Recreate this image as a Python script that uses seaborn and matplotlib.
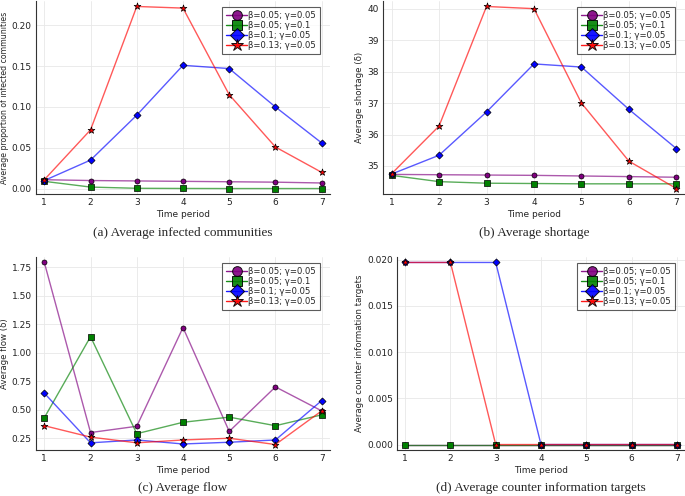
import matplotlib
matplotlib.use("Agg")
import matplotlib.pyplot as plt
from matplotlib.lines import Line2D
import seaborn as sns
import pandas as pd

periods = [1, 2, 3, 4, 5, 6, 7]
labels = ["β=0.05; γ=0.05", "β=0.05; γ=0.1", "β=0.1; γ=0.05", "β=0.13; γ=0.05"]
colors = ["#800080", "#008000", "#0000ff", "#ff0000"]
markers = ["o", "s", "D", "*"]

# (a) infected communities
infected_1 = [0.011, 0.010, 0.0095, 0.009, 0.0085, 0.008, 0.007]
infected_2 = [0.009, 0.002, 0.0005, 0.0003, 0.0002, 0.0002, 0.0002]
infected_3 = [0.010, 0.035, 0.090, 0.151, 0.147, 0.100, 0.056]
infected_4 = [0.011, 0.072, 0.223, 0.221, 0.115, 0.051, 0.020]

# (b) shortage
shortage_1 = [34.73, 34.72, 34.71, 34.70, 34.68, 34.66, 34.64]
shortage_2 = [34.70, 34.50, 34.45, 34.44, 34.43, 34.43, 34.43]
shortage_3 = [34.74, 35.34, 36.72, 38.25, 38.15, 36.80, 35.55]
shortage_4 = [34.75, 36.27, 40.08, 40.01, 37.00, 35.15, 34.28]

# (c) flow
flow_1 = [1.79, 0.30, 0.355, 1.22, 0.31, 0.70, 0.49]
flow_2 = [0.43, 1.14, 0.29, 0.39, 0.435, 0.36, 0.455]
flow_3 = [0.645, 0.21, 0.235, 0.20, 0.215, 0.235, 0.58]
flow_4 = [0.36, 0.26, 0.21, 0.235, 0.25, 0.195, 0.49]

# (d) counter information targets
counter_1 = [0.0, 0.0, 0.0, 0.0, 0.0, 0.0, 0.0]
counter_2 = [0.0, 0.0, 0.0, 0.0, 0.0, 0.0, 0.0]
counter_3 = [0.0197, 0.0197, 0.0197, 0.0, 0.0, 0.0, 0.0]
counter_4 = [0.0197, 0.0197, 0.0, 0.0, 0.0, 0.0, 0.0]

panels = [
    ([infected_1, infected_2, infected_3, infected_4], "Average proportion of infected communities",
     "(a) Average infected communities", "{x:.2f}", [0.0, 0.05, 0.10, 0.15, 0.20]),
    ([shortage_1, shortage_2, shortage_3, shortage_4], "Average shortage (δ)",
     "(b) Average shortage", "{x:.0f}", [35, 36, 37, 38, 39, 40]),
    ([flow_1, flow_2, flow_3, flow_4], "Average flow (δ)",
     "(c) Average flow", "{x:.2f}", [0.25, 0.50, 0.75, 1.00, 1.25, 1.50, 1.75]),
    ([counter_1, counter_2, counter_3, counter_4], "Average counter information targets",
     "(d) Average counter information targets", "{x:.3f}", [0.0, 0.005, 0.010, 0.015, 0.020]),
]

sns.set_style("white")
plt.rcParams['font.family'] = ['DejaVu Sans']

W, H = 685, 496
fig = plt.figure(figsize=(W / 100, H / 100), dpi=100)

# axes boxes in pixels: left, top, right, bottom
boxes = [(36, 1, 330, 194), (383, 1, 685, 194), (36, 257, 330, 450), (397, 257, 685, 450)]
ylabel_x = [9, 364, 9, 364]   # right edge of the rotated y label
captions_y = [233, 488]

for i, (series, ylab, cap, fmt, yt) in enumerate(panels):
    l, t, r, b = boxes[i]
    ax = fig.add_axes([l / W, 1 - b / H, (r - l) / W, (b - t) / H])
    for vals, lab, c, m in zip(series, labels, colors, markers):
        df = pd.DataFrame({"t": periods, "v": vals})
        sns.lineplot(data=df, x="t", y="v", color=c, alpha=0.65, lw=1.0, ax=ax, legend=False)
        sns.scatterplot(data=df, x="t", y="v", color=c, marker=m, s=13 if m != "*" else 26,
                        edgecolor="black", linewidth=0.5, ax=ax, legend=False, zorder=3)
    ax.set_xlim(0.82, 7.18)
    ax.margins(y=0.03)
    ax.set_xticks(periods)
    ax.set_yticks(yt)
    ax.yaxis.set_major_formatter(matplotlib.ticker.StrMethodFormatter(fmt))
    ax.grid(True, color="#e8e8e8", lw=0.6)
    for s in ["top", "right"]:
        ax.spines[s].set_visible(False)
    for s in ["left", "bottom"]:
        ax.spines[s].set_color("#333333")
        ax.spines[s].set_linewidth(0.8)
    ax.tick_params(labelsize=6.5, length=0, pad=3, colors="#222222")
    ax.set_xlabel("Time period", fontsize=6.5, labelpad=2)
    ax.set_ylabel(ylab, fontsize=6.2 if i else 5.6)
    ax.yaxis.set_label_coords((ylabel_x[i] - l) / (r - l), 0.5)

    handles = [Line2D([0], [0], color=c, marker=m, markerfacecolor=c, markeredgecolor="black",
                      markersize=7 if m != "*" else 9, lw=1.0, markeredgewidth=0.7, alpha=0.9)
               for c, m in zip(colors, markers)]
    # legend box: 10 px in from the right edge, 6 px below the top
    anchor = ((r - 10 - l) / (r - l), 1 - 6 / (b - t))
    leg = ax.legend(handles, labels, loc="upper right", bbox_to_anchor=anchor, borderaxespad=0,
                    fontsize=6.1, frameon=True, fancybox=False, borderpad=0.45, labelspacing=0.12,
                    handlelength=2.5, handletextpad=0.15, edgecolor="#333333")
    leg.get_frame().set_linewidth(0.8)

    cx = (l + r) / 2 / W
    fig.text(cx, 1 - captions_y[i // 2] / H, cap, ha="center", va="center",
             fontsize=9.5, family="Liberation Serif")

fig.savefig("out.png", dpi=100, facecolor="white")
